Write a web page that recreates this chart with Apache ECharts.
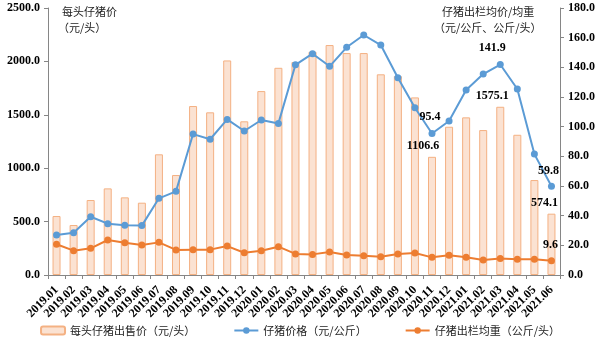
<!DOCTYPE html>
<html>
<head>
<meta charset="utf-8">
<script src="https://cdn.jsdelivr.net/npm/echarts@6/dist/echarts.min.js"></script>
<style>
  html, body { margin: 0; padding: 0; background: #fff; }
  #chart { width: 600px; height: 345px; }
</style>
</head>
<body>
<div id="chart"></div>
<script>
// Monthly piglet market figures, 2019.01 – 2021.06
const months = [
  '2019.01','2019.02','2019.03','2019.04','2019.05','2019.06','2019.07','2019.08','2019.09','2019.10',
  '2019.11','2019.12','2020.01','2020.02','2020.03','2020.04','2020.05','2020.06','2020.07','2020.08',
  '2020.09','2020.10','2020.11','2020.12','2021.01','2021.02','2021.03','2021.04','2021.05','2021.06'
];
// selling price per piglet (yuan/head), left axis
const pricePerHead = [
  552, 468, 702, 811, 727, 677, 1130, 936, 1582, 1523,
  2009, 1439, 1722, 1940, 1994, 2090, 2153, 2078, 2078, 1879,
  1863, 1663, 1106.6, 1388, 1476, 1357, 1575.1, 1313, 889, 574.1
];
// piglet price (yuan/kg), right axis
const pricePerKg = [
  27.0, 28.5, 39.3, 34.6, 33.5, 33.3, 51.7, 56.4, 95.0, 91.5,
  104.9, 97.1, 104.5, 102.2, 141.7, 149.2, 140.7, 153.5, 161.8, 155.0,
  133.0, 112.8, 95.4, 103.8, 124.7, 135.5, 141.9, 125.4, 81.5, 59.8
];
// average weight at sale (kg/head), right axis
const weightPerHead = [
  20.7, 16.4, 18.0, 23.6, 21.8, 20.2, 22.0, 16.9, 17.1, 17.1,
  19.5, 15.0, 16.4, 19.1, 14.2, 13.9, 15.5, 13.5, 13.0, 12.3,
  14.2, 14.8, 11.9, 13.3, 11.9, 10.1, 11.2, 10.6, 10.6, 9.6
];
const leftTicks = { min: 0, max: 2500, interval: 500 };
const rightTicks = { min: 0, max: 180, interval: 20 };

const serif = '"Liberation Serif", "Times New Roman", serif';
const cjk = '"Noto Sans CJK SC", sans-serif';
const axisGray = '#868686';

// which points carry a value label, and how far each label is nudged
const barLabels = { 22: [-9, 0], 26: [-8, 0], 29: [-7, 0] };
const kgLabels = { 22: [-2, -2], 26: [-8, -2], 29: [-3, -1] };
const weightLabels = { 29: [-1, -1] };

function withLabels(values, picks) {
  return values.map((v, i) => {
    if (!(i in picks)) return v;
    return {
      value: v,
      label: {
        show: true, position: 'top', offset: picks[i],
        fontFamily: serif, fontWeight: 'bold', fontSize: 12, color: '#000',
        formatter: p => Number(p.value).toFixed(1)
      }
    };
  });
}

const chart = echarts.init(document.getElementById('chart'));
chart.setOption({
  animation: false,
  grid: { left: 48, right: 40, top: 8, bottom: 70, containLabel: false },
  graphic: [
    { type: 'text', left: 62, top: 6,
      style: { text: '每头仔猪价', font: '11px ' + cjk, fill: '#222' } },
    { type: 'text', left: 58, top: 22,
      style: { text: '（元/头）', font: '11px ' + cjk, fill: '#222' } },
    { type: 'text', left: 442, top: 6,
      style: { text: '仔猪出栏均价/均重', font: '11px ' + cjk, fill: '#222' } },
    { type: 'text', left: 434, top: 22,
      style: { text: '（元/公斤、公斤/头）', font: '11px ' + cjk, fill: '#222' } }
  ],
  legend: {
    bottom: 4, left: 'center', itemGap: 38, itemWidth: 24, itemHeight: 8,
    textStyle: { fontFamily: cjk, fontSize: 11, color: '#222' },
    data: [
      { name: '每头仔猪出售价（元/头）' },
      { name: '仔猪价格（元/公斤）' },
      { name: '仔猪出栏均重（公斤/头）' }
    ]
  },
  xAxis: {
    type: 'category', data: months, boundaryGap: true,
    axisLine: { lineStyle: { color: axisGray } },
    axisTick: { show: true, alignWithLabel: false, lineStyle: { color: axisGray }, length: 4 },
    axisLabel: {
      rotate: 45, interval: 0, margin: 13,
      fontFamily: serif, fontWeight: 'bold', fontSize: 12, color: '#000'
    }
  },
  yAxis: [
    {
      type: 'value', ...leftTicks,
      splitLine: { show: false },
      axisLine: { show: true, lineStyle: { color: axisGray } },
      axisTick: { show: true, inside: false, length: 4, lineStyle: { color: axisGray } },
      axisLabel: { formatter: v => v.toFixed(1), margin: 8,
        fontFamily: serif, fontWeight: 'bold', fontSize: 12, color: '#000' }
    },
    {
      type: 'value', ...rightTicks, position: 'right',
      splitLine: { show: false },
      axisLine: { show: true, lineStyle: { color: axisGray } },
      axisTick: { show: true, inside: false, length: 4, lineStyle: { color: axisGray } },
      axisLabel: { formatter: v => v.toFixed(1), margin: 8,
        fontFamily: serif, fontWeight: 'bold', fontSize: 12, color: '#000' }
    }
  ],
  series: [
    {
      name: '每头仔猪出售价（元/头）', type: 'bar', yAxisIndex: 0,
      barWidth: 8,
      itemStyle: { color: '#FBE2D2', borderColor: '#F4B183', borderWidth: 1 },
      data: withLabels(pricePerHead, barLabels)
    },
    {
      name: '仔猪价格（元/公斤）', type: 'line', yAxisIndex: 1,
      symbol: 'circle', symbolSize: 7,
      lineStyle: { color: '#5B9BD5', width: 2 },
      itemStyle: { color: '#5B9BD5' },
      data: withLabels(pricePerKg, kgLabels)
    },
    {
      name: '仔猪出栏均重（公斤/头）', type: 'line', yAxisIndex: 1,
      symbol: 'circle', symbolSize: 7,
      lineStyle: { color: '#ED7D31', width: 2 },
      itemStyle: { color: '#ED7D31' },
      data: withLabels(weightPerHead, weightLabels)
    }
  ]
});
</script>
</body>
</html>
